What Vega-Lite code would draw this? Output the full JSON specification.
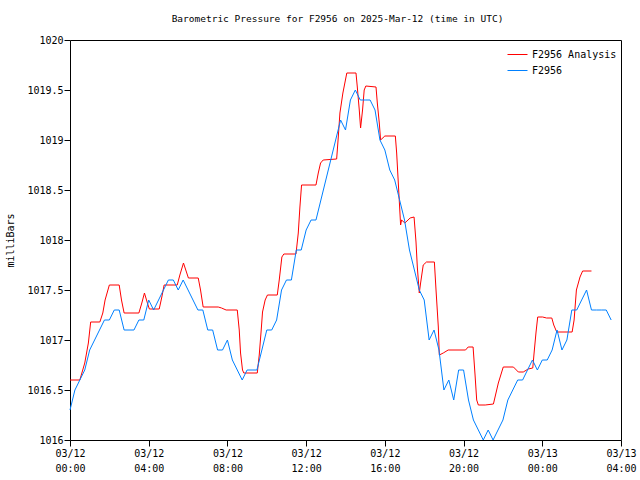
{
  "$schema": "https://vega.github.io/schema/vega-lite/v6.json",
  "autosize": "none",
  "width": 551,
  "height": 400,
  "padding": {"left": 70, "top": 40, "right": 19, "bottom": 40},
  "background": "white",
  "config": {
    "view": {"stroke": "black", "strokeWidth": 1},
    "axis": {"grid": false, "domain": false, "tickColor": "black", "labelColor": "black", "labelFont": "DejaVu Sans Mono", "labelFontSize": 10, "titleFont": "DejaVu Sans Mono", "titleFontSize": 10, "titleFontWeight": "normal", "titleColor": "black"}
  },
  "title": {"text": "Barometric Pressure for F2956 on 2025-Mar-12 (time in UTC)", "font": "DejaVu Sans Mono", "fontSize": 9.5, "fontWeight": "normal", "anchor": "middle", "offset": 12, "dx": -8, "color": "black"},
  "data": {"values": [
    {"t": "2025-03-12T00:00:00Z", "series": "F2956 Analysis", "p": 1016.6},
    {"t": "2025-03-12T00:30:00Z", "series": "F2956 Analysis", "p": 1016.6},
    {"t": "2025-03-12T00:45:00Z", "series": "F2956 Analysis", "p": 1016.77},
    {"t": "2025-03-12T00:56:00Z", "series": "F2956 Analysis", "p": 1016.97},
    {"t": "2025-03-12T01:03:00Z", "series": "F2956 Analysis", "p": 1017.18},
    {"t": "2025-03-12T01:31:00Z", "series": "F2956 Analysis", "p": 1017.18},
    {"t": "2025-03-12T01:40:00Z", "series": "F2956 Analysis", "p": 1017.27},
    {"t": "2025-03-12T01:47:00Z", "series": "F2956 Analysis", "p": 1017.4},
    {"t": "2025-03-12T02:00:00Z", "series": "F2956 Analysis", "p": 1017.55},
    {"t": "2025-03-12T02:30:00Z", "series": "F2956 Analysis", "p": 1017.55},
    {"t": "2025-03-12T02:37:00Z", "series": "F2956 Analysis", "p": 1017.4},
    {"t": "2025-03-12T02:45:00Z", "series": "F2956 Analysis", "p": 1017.27},
    {"t": "2025-03-12T03:30:00Z", "series": "F2956 Analysis", "p": 1017.27},
    {"t": "2025-03-12T03:39:00Z", "series": "F2956 Analysis", "p": 1017.37},
    {"t": "2025-03-12T03:47:00Z", "series": "F2956 Analysis", "p": 1017.47},
    {"t": "2025-03-12T03:56:00Z", "series": "F2956 Analysis", "p": 1017.37},
    {"t": "2025-03-12T04:02:00Z", "series": "F2956 Analysis", "p": 1017.31},
    {"t": "2025-03-12T04:32:00Z", "series": "F2956 Analysis", "p": 1017.31},
    {"t": "2025-03-12T04:40:00Z", "series": "F2956 Analysis", "p": 1017.43},
    {"t": "2025-03-12T04:47:00Z", "series": "F2956 Analysis", "p": 1017.55},
    {"t": "2025-03-12T05:27:00Z", "series": "F2956 Analysis", "p": 1017.55},
    {"t": "2025-03-12T05:35:00Z", "series": "F2956 Analysis", "p": 1017.65},
    {"t": "2025-03-12T05:46:00Z", "series": "F2956 Analysis", "p": 1017.77},
    {"t": "2025-03-12T05:53:00Z", "series": "F2956 Analysis", "p": 1017.7},
    {"t": "2025-03-12T06:01:00Z", "series": "F2956 Analysis", "p": 1017.62},
    {"t": "2025-03-12T06:31:00Z", "series": "F2956 Analysis", "p": 1017.62},
    {"t": "2025-03-12T06:38:00Z", "series": "F2956 Analysis", "p": 1017.5},
    {"t": "2025-03-12T06:46:00Z", "series": "F2956 Analysis", "p": 1017.33},
    {"t": "2025-03-12T07:32:00Z", "series": "F2956 Analysis", "p": 1017.33},
    {"t": "2025-03-12T07:42:00Z", "series": "F2956 Analysis", "p": 1017.32},
    {"t": "2025-03-12T07:56:00Z", "series": "F2956 Analysis", "p": 1017.3},
    {"t": "2025-03-12T08:30:00Z", "series": "F2956 Analysis", "p": 1017.3},
    {"t": "2025-03-12T08:33:00Z", "series": "F2956 Analysis", "p": 1017.2},
    {"t": "2025-03-12T08:36:00Z", "series": "F2956 Analysis", "p": 1017.1},
    {"t": "2025-03-12T08:40:00Z", "series": "F2956 Analysis", "p": 1016.87},
    {"t": "2025-03-12T08:46:00Z", "series": "F2956 Analysis", "p": 1016.7},
    {"t": "2025-03-12T08:50:00Z", "series": "F2956 Analysis", "p": 1016.67},
    {"t": "2025-03-12T09:31:00Z", "series": "F2956 Analysis", "p": 1016.67},
    {"t": "2025-03-12T09:37:00Z", "series": "F2956 Analysis", "p": 1016.85},
    {"t": "2025-03-12T09:43:00Z", "series": "F2956 Analysis", "p": 1017.1},
    {"t": "2025-03-12T09:47:00Z", "series": "F2956 Analysis", "p": 1017.28},
    {"t": "2025-03-12T09:55:00Z", "series": "F2956 Analysis", "p": 1017.4},
    {"t": "2025-03-12T10:02:00Z", "series": "F2956 Analysis", "p": 1017.45},
    {"t": "2025-03-12T10:32:00Z", "series": "F2956 Analysis", "p": 1017.45},
    {"t": "2025-03-12T10:38:00Z", "series": "F2956 Analysis", "p": 1017.6},
    {"t": "2025-03-12T10:46:00Z", "series": "F2956 Analysis", "p": 1017.83},
    {"t": "2025-03-12T10:52:00Z", "series": "F2956 Analysis", "p": 1017.86},
    {"t": "2025-03-12T11:29:00Z", "series": "F2956 Analysis", "p": 1017.86},
    {"t": "2025-03-12T11:36:00Z", "series": "F2956 Analysis", "p": 1018.07},
    {"t": "2025-03-12T11:41:00Z", "series": "F2956 Analysis", "p": 1018.33},
    {"t": "2025-03-12T11:46:00Z", "series": "F2956 Analysis", "p": 1018.55},
    {"t": "2025-03-12T12:30:00Z", "series": "F2956 Analysis", "p": 1018.55},
    {"t": "2025-03-12T12:37:00Z", "series": "F2956 Analysis", "p": 1018.67},
    {"t": "2025-03-12T12:44:00Z", "series": "F2956 Analysis", "p": 1018.77},
    {"t": "2025-03-12T12:52:00Z", "series": "F2956 Analysis", "p": 1018.8},
    {"t": "2025-03-12T13:33:00Z", "series": "F2956 Analysis", "p": 1018.81},
    {"t": "2025-03-12T13:38:00Z", "series": "F2956 Analysis", "p": 1019.03},
    {"t": "2025-03-12T13:43:00Z", "series": "F2956 Analysis", "p": 1019.27},
    {"t": "2025-03-12T13:52:00Z", "series": "F2956 Analysis", "p": 1019.47},
    {"t": "2025-03-12T14:04:00Z", "series": "F2956 Analysis", "p": 1019.67},
    {"t": "2025-03-12T14:32:00Z", "series": "F2956 Analysis", "p": 1019.67},
    {"t": "2025-03-12T14:36:00Z", "series": "F2956 Analysis", "p": 1019.53},
    {"t": "2025-03-12T14:42:00Z", "series": "F2956 Analysis", "p": 1019.3},
    {"t": "2025-03-12T14:46:00Z", "series": "F2956 Analysis", "p": 1019.12},
    {"t": "2025-03-12T14:52:00Z", "series": "F2956 Analysis", "p": 1019.3},
    {"t": "2025-03-12T14:57:00Z", "series": "F2956 Analysis", "p": 1019.5},
    {"t": "2025-03-12T15:02:00Z", "series": "F2956 Analysis", "p": 1019.54},
    {"t": "2025-03-12T15:33:00Z", "series": "F2956 Analysis", "p": 1019.53},
    {"t": "2025-03-12T15:37:00Z", "series": "F2956 Analysis", "p": 1019.37},
    {"t": "2025-03-12T15:43:00Z", "series": "F2956 Analysis", "p": 1019.17},
    {"t": "2025-03-12T15:47:00Z", "series": "F2956 Analysis", "p": 1019.0},
    {"t": "2025-03-12T16:00:00Z", "series": "F2956 Analysis", "p": 1019.04},
    {"t": "2025-03-12T16:32:00Z", "series": "F2956 Analysis", "p": 1019.04},
    {"t": "2025-03-12T16:36:00Z", "series": "F2956 Analysis", "p": 1018.87},
    {"t": "2025-03-12T16:41:00Z", "series": "F2956 Analysis", "p": 1018.57},
    {"t": "2025-03-12T16:48:00Z", "series": "F2956 Analysis", "p": 1018.15},
    {"t": "2025-03-12T16:51:00Z", "series": "F2956 Analysis", "p": 1018.2},
    {"t": "2025-03-12T17:01:00Z", "series": "F2956 Analysis", "p": 1018.17},
    {"t": "2025-03-12T17:17:00Z", "series": "F2956 Analysis", "p": 1018.22},
    {"t": "2025-03-12T17:29:00Z", "series": "F2956 Analysis", "p": 1018.23},
    {"t": "2025-03-12T17:35:00Z", "series": "F2956 Analysis", "p": 1017.98},
    {"t": "2025-03-12T17:39:00Z", "series": "F2956 Analysis", "p": 1017.73},
    {"t": "2025-03-12T17:45:00Z", "series": "F2956 Analysis", "p": 1017.47},
    {"t": "2025-03-12T17:49:00Z", "series": "F2956 Analysis", "p": 1017.57},
    {"t": "2025-03-12T17:57:00Z", "series": "F2956 Analysis", "p": 1017.75},
    {"t": "2025-03-12T18:07:00Z", "series": "F2956 Analysis", "p": 1017.78},
    {"t": "2025-03-12T18:31:00Z", "series": "F2956 Analysis", "p": 1017.78},
    {"t": "2025-03-12T18:36:00Z", "series": "F2956 Analysis", "p": 1017.5},
    {"t": "2025-03-12T18:43:00Z", "series": "F2956 Analysis", "p": 1017.13},
    {"t": "2025-03-12T18:46:00Z", "series": "F2956 Analysis", "p": 1016.85},
    {"t": "2025-03-12T18:58:00Z", "series": "F2956 Analysis", "p": 1016.87},
    {"t": "2025-03-12T19:13:00Z", "series": "F2956 Analysis", "p": 1016.9},
    {"t": "2025-03-12T20:06:00Z", "series": "F2956 Analysis", "p": 1016.9},
    {"t": "2025-03-12T20:14:00Z", "series": "F2956 Analysis", "p": 1016.93},
    {"t": "2025-03-12T20:29:00Z", "series": "F2956 Analysis", "p": 1016.93},
    {"t": "2025-03-12T20:35:00Z", "series": "F2956 Analysis", "p": 1016.65},
    {"t": "2025-03-12T20:40:00Z", "series": "F2956 Analysis", "p": 1016.4},
    {"t": "2025-03-12T20:45:00Z", "series": "F2956 Analysis", "p": 1016.35},
    {"t": "2025-03-12T21:06:00Z", "series": "F2956 Analysis", "p": 1016.35},
    {"t": "2025-03-12T21:31:00Z", "series": "F2956 Analysis", "p": 1016.36},
    {"t": "2025-03-12T21:36:00Z", "series": "F2956 Analysis", "p": 1016.43},
    {"t": "2025-03-12T21:46:00Z", "series": "F2956 Analysis", "p": 1016.57},
    {"t": "2025-03-12T22:01:00Z", "series": "F2956 Analysis", "p": 1016.73},
    {"t": "2025-03-12T22:32:00Z", "series": "F2956 Analysis", "p": 1016.73},
    {"t": "2025-03-12T22:47:00Z", "series": "F2956 Analysis", "p": 1016.68},
    {"t": "2025-03-12T23:02:00Z", "series": "F2956 Analysis", "p": 1016.68},
    {"t": "2025-03-12T23:17:00Z", "series": "F2956 Analysis", "p": 1016.71},
    {"t": "2025-03-12T23:31:00Z", "series": "F2956 Analysis", "p": 1016.72},
    {"t": "2025-03-12T23:35:00Z", "series": "F2956 Analysis", "p": 1016.87},
    {"t": "2025-03-12T23:41:00Z", "series": "F2956 Analysis", "p": 1017.08},
    {"t": "2025-03-12T23:46:00Z", "series": "F2956 Analysis", "p": 1017.23},
    {"t": "2025-03-13T00:01:00Z", "series": "F2956 Analysis", "p": 1017.23},
    {"t": "2025-03-13T00:13:00Z", "series": "F2956 Analysis", "p": 1017.22},
    {"t": "2025-03-13T00:29:00Z", "series": "F2956 Analysis", "p": 1017.22},
    {"t": "2025-03-13T00:35:00Z", "series": "F2956 Analysis", "p": 1017.15},
    {"t": "2025-03-13T00:44:00Z", "series": "F2956 Analysis", "p": 1017.08},
    {"t": "2025-03-13T01:31:00Z", "series": "F2956 Analysis", "p": 1017.08},
    {"t": "2025-03-13T01:37:00Z", "series": "F2956 Analysis", "p": 1017.2},
    {"t": "2025-03-13T01:44:00Z", "series": "F2956 Analysis", "p": 1017.5},
    {"t": "2025-03-13T01:55:00Z", "series": "F2956 Analysis", "p": 1017.63},
    {"t": "2025-03-13T02:03:00Z", "series": "F2956 Analysis", "p": 1017.69},
    {"t": "2025-03-13T02:30:00Z", "series": "F2956 Analysis", "p": 1017.69},
    {"t": "2025-03-12T00:00:00Z", "series": "F2956", "p": 1016.3},
    {"t": "2025-03-12T00:15:00Z", "series": "F2956", "p": 1016.5},
    {"t": "2025-03-12T00:30:00Z", "series": "F2956", "p": 1016.6},
    {"t": "2025-03-12T00:45:00Z", "series": "F2956", "p": 1016.7},
    {"t": "2025-03-12T01:00:00Z", "series": "F2956", "p": 1016.9},
    {"t": "2025-03-12T01:15:00Z", "series": "F2956", "p": 1017.0},
    {"t": "2025-03-12T01:30:00Z", "series": "F2956", "p": 1017.1},
    {"t": "2025-03-12T01:45:00Z", "series": "F2956", "p": 1017.2},
    {"t": "2025-03-12T02:00:00Z", "series": "F2956", "p": 1017.2},
    {"t": "2025-03-12T02:15:00Z", "series": "F2956", "p": 1017.3},
    {"t": "2025-03-12T02:30:00Z", "series": "F2956", "p": 1017.3},
    {"t": "2025-03-12T02:45:00Z", "series": "F2956", "p": 1017.1},
    {"t": "2025-03-12T03:00:00Z", "series": "F2956", "p": 1017.1},
    {"t": "2025-03-12T03:15:00Z", "series": "F2956", "p": 1017.1},
    {"t": "2025-03-12T03:30:00Z", "series": "F2956", "p": 1017.2},
    {"t": "2025-03-12T03:45:00Z", "series": "F2956", "p": 1017.2},
    {"t": "2025-03-12T04:00:00Z", "series": "F2956", "p": 1017.4},
    {"t": "2025-03-12T04:15:00Z", "series": "F2956", "p": 1017.3},
    {"t": "2025-03-12T04:30:00Z", "series": "F2956", "p": 1017.4},
    {"t": "2025-03-12T04:45:00Z", "series": "F2956", "p": 1017.5},
    {"t": "2025-03-12T05:00:00Z", "series": "F2956", "p": 1017.6},
    {"t": "2025-03-12T05:15:00Z", "series": "F2956", "p": 1017.6},
    {"t": "2025-03-12T05:30:00Z", "series": "F2956", "p": 1017.5},
    {"t": "2025-03-12T05:45:00Z", "series": "F2956", "p": 1017.6},
    {"t": "2025-03-12T06:00:00Z", "series": "F2956", "p": 1017.5},
    {"t": "2025-03-12T06:15:00Z", "series": "F2956", "p": 1017.4},
    {"t": "2025-03-12T06:30:00Z", "series": "F2956", "p": 1017.3},
    {"t": "2025-03-12T06:45:00Z", "series": "F2956", "p": 1017.3},
    {"t": "2025-03-12T07:00:00Z", "series": "F2956", "p": 1017.1},
    {"t": "2025-03-12T07:15:00Z", "series": "F2956", "p": 1017.1},
    {"t": "2025-03-12T07:30:00Z", "series": "F2956", "p": 1016.9},
    {"t": "2025-03-12T07:45:00Z", "series": "F2956", "p": 1016.9},
    {"t": "2025-03-12T08:00:00Z", "series": "F2956", "p": 1017.0},
    {"t": "2025-03-12T08:15:00Z", "series": "F2956", "p": 1016.8},
    {"t": "2025-03-12T08:30:00Z", "series": "F2956", "p": 1016.7},
    {"t": "2025-03-12T08:45:00Z", "series": "F2956", "p": 1016.6},
    {"t": "2025-03-12T09:00:00Z", "series": "F2956", "p": 1016.7},
    {"t": "2025-03-12T09:15:00Z", "series": "F2956", "p": 1016.7},
    {"t": "2025-03-12T09:30:00Z", "series": "F2956", "p": 1016.7},
    {"t": "2025-03-12T09:45:00Z", "series": "F2956", "p": 1016.9},
    {"t": "2025-03-12T10:00:00Z", "series": "F2956", "p": 1017.1},
    {"t": "2025-03-12T10:15:00Z", "series": "F2956", "p": 1017.1},
    {"t": "2025-03-12T10:30:00Z", "series": "F2956", "p": 1017.2},
    {"t": "2025-03-12T10:45:00Z", "series": "F2956", "p": 1017.5},
    {"t": "2025-03-12T11:00:00Z", "series": "F2956", "p": 1017.6},
    {"t": "2025-03-12T11:15:00Z", "series": "F2956", "p": 1017.6},
    {"t": "2025-03-12T11:30:00Z", "series": "F2956", "p": 1017.9},
    {"t": "2025-03-12T11:45:00Z", "series": "F2956", "p": 1017.9},
    {"t": "2025-03-12T12:00:00Z", "series": "F2956", "p": 1018.1},
    {"t": "2025-03-12T12:15:00Z", "series": "F2956", "p": 1018.2},
    {"t": "2025-03-12T12:30:00Z", "series": "F2956", "p": 1018.2},
    {"t": "2025-03-12T12:45:00Z", "series": "F2956", "p": 1018.4},
    {"t": "2025-03-12T13:00:00Z", "series": "F2956", "p": 1018.6},
    {"t": "2025-03-12T13:15:00Z", "series": "F2956", "p": 1018.8},
    {"t": "2025-03-12T13:30:00Z", "series": "F2956", "p": 1019.0},
    {"t": "2025-03-12T13:45:00Z", "series": "F2956", "p": 1019.2},
    {"t": "2025-03-12T14:00:00Z", "series": "F2956", "p": 1019.1},
    {"t": "2025-03-12T14:15:00Z", "series": "F2956", "p": 1019.4},
    {"t": "2025-03-12T14:30:00Z", "series": "F2956", "p": 1019.5},
    {"t": "2025-03-12T14:45:00Z", "series": "F2956", "p": 1019.4},
    {"t": "2025-03-12T15:00:00Z", "series": "F2956", "p": 1019.4},
    {"t": "2025-03-12T15:15:00Z", "series": "F2956", "p": 1019.4},
    {"t": "2025-03-12T15:30:00Z", "series": "F2956", "p": 1019.3},
    {"t": "2025-03-12T15:45:00Z", "series": "F2956", "p": 1019.0},
    {"t": "2025-03-12T16:00:00Z", "series": "F2956", "p": 1018.9},
    {"t": "2025-03-12T16:15:00Z", "series": "F2956", "p": 1018.7},
    {"t": "2025-03-12T16:30:00Z", "series": "F2956", "p": 1018.6},
    {"t": "2025-03-12T16:45:00Z", "series": "F2956", "p": 1018.4},
    {"t": "2025-03-12T17:00:00Z", "series": "F2956", "p": 1018.2},
    {"t": "2025-03-12T17:15:00Z", "series": "F2956", "p": 1017.9},
    {"t": "2025-03-12T17:30:00Z", "series": "F2956", "p": 1017.7},
    {"t": "2025-03-12T17:45:00Z", "series": "F2956", "p": 1017.5},
    {"t": "2025-03-12T18:00:00Z", "series": "F2956", "p": 1017.4},
    {"t": "2025-03-12T18:15:00Z", "series": "F2956", "p": 1017.0},
    {"t": "2025-03-12T18:30:00Z", "series": "F2956", "p": 1017.1},
    {"t": "2025-03-12T18:45:00Z", "series": "F2956", "p": 1016.9},
    {"t": "2025-03-12T19:00:00Z", "series": "F2956", "p": 1016.5},
    {"t": "2025-03-12T19:15:00Z", "series": "F2956", "p": 1016.6},
    {"t": "2025-03-12T19:30:00Z", "series": "F2956", "p": 1016.4},
    {"t": "2025-03-12T19:45:00Z", "series": "F2956", "p": 1016.7},
    {"t": "2025-03-12T20:00:00Z", "series": "F2956", "p": 1016.7},
    {"t": "2025-03-12T20:15:00Z", "series": "F2956", "p": 1016.4},
    {"t": "2025-03-12T20:30:00Z", "series": "F2956", "p": 1016.2},
    {"t": "2025-03-12T20:45:00Z", "series": "F2956", "p": 1016.1},
    {"t": "2025-03-12T21:00:00Z", "series": "F2956", "p": 1016.0},
    {"t": "2025-03-12T21:15:00Z", "series": "F2956", "p": 1016.1},
    {"t": "2025-03-12T21:30:00Z", "series": "F2956", "p": 1016.0},
    {"t": "2025-03-12T21:45:00Z", "series": "F2956", "p": 1016.1},
    {"t": "2025-03-12T22:00:00Z", "series": "F2956", "p": 1016.2},
    {"t": "2025-03-12T22:15:00Z", "series": "F2956", "p": 1016.4},
    {"t": "2025-03-12T22:30:00Z", "series": "F2956", "p": 1016.5},
    {"t": "2025-03-12T22:45:00Z", "series": "F2956", "p": 1016.6},
    {"t": "2025-03-12T23:00:00Z", "series": "F2956", "p": 1016.6},
    {"t": "2025-03-12T23:15:00Z", "series": "F2956", "p": 1016.7},
    {"t": "2025-03-12T23:30:00Z", "series": "F2956", "p": 1016.8},
    {"t": "2025-03-12T23:45:00Z", "series": "F2956", "p": 1016.7},
    {"t": "2025-03-13T00:00:00Z", "series": "F2956", "p": 1016.8},
    {"t": "2025-03-13T00:15:00Z", "series": "F2956", "p": 1016.8},
    {"t": "2025-03-13T00:30:00Z", "series": "F2956", "p": 1016.9},
    {"t": "2025-03-13T00:45:00Z", "series": "F2956", "p": 1017.1},
    {"t": "2025-03-13T01:00:00Z", "series": "F2956", "p": 1016.9},
    {"t": "2025-03-13T01:15:00Z", "series": "F2956", "p": 1017.0},
    {"t": "2025-03-13T01:30:00Z", "series": "F2956", "p": 1017.3},
    {"t": "2025-03-13T01:45:00Z", "series": "F2956", "p": 1017.3},
    {"t": "2025-03-13T02:00:00Z", "series": "F2956", "p": 1017.4},
    {"t": "2025-03-13T02:15:00Z", "series": "F2956", "p": 1017.5},
    {"t": "2025-03-13T02:30:00Z", "series": "F2956", "p": 1017.3},
    {"t": "2025-03-13T02:45:00Z", "series": "F2956", "p": 1017.3},
    {"t": "2025-03-13T03:00:00Z", "series": "F2956", "p": 1017.3},
    {"t": "2025-03-13T03:15:00Z", "series": "F2956", "p": 1017.3},
    {"t": "2025-03-13T03:30:00Z", "series": "F2956", "p": 1017.2}
  ]},
  "mark": {"type": "line", "strokeWidth": 1},
  "encoding": {
    "x": {"field": "t", "type": "temporal",
          "scale": {"type": "utc", "domain": ["2025-03-12T00:00:00Z", "2025-03-13T04:00:00Z"], "nice": false},
          "axis": {"title": null, "tickSize": 6, "labelPadding": 2, "labelLineHeight": 15, "labelBaseline": "top", "labelFlush": false, "labelOverlap": false,
                   "values": [
                     {"year": 2025, "month": 3, "date": 12, "hours": 0, "utc": true},
                     {"year": 2025, "month": 3, "date": 12, "hours": 4, "utc": true},
                     {"year": 2025, "month": 3, "date": 12, "hours": 8, "utc": true},
                     {"year": 2025, "month": 3, "date": 12, "hours": 12, "utc": true},
                     {"year": 2025, "month": 3, "date": 12, "hours": 16, "utc": true},
                     {"year": 2025, "month": 3, "date": 12, "hours": 20, "utc": true},
                     {"year": 2025, "month": 3, "date": 13, "hours": 0, "utc": true},
                     {"year": 2025, "month": 3, "date": 13, "hours": 4, "utc": true}
                   ],
                   "labelExpr": "[utcFormat(datum.value, '%m/%d'), utcFormat(datum.value, '%H:%M')]"}},
    "y": {"field": "p", "type": "quantitative",
          "scale": {"domain": [1016, 1020], "zero": false, "nice": false},
          "axis": {"title": "milliBars", "values": [1016, 1016.5, 1017, 1017.5, 1018, 1018.5, 1019, 1019.5, 1020], "format": ".1~f", "tickSize": 6, "labelPadding": 1, "titlePadding": 11, "labelFlush": false}},
    "color": {"field": "series", "type": "nominal",
              "scale": {"domain": ["F2956 Analysis", "F2956"], "range": ["#ff0000", "#0080ff"]},
              "legend": {"title": null, "orient": "top-right", "offset": 4, "rowPadding": 0, "symbolType": "stroke", "symbolSize": 400, "symbolStrokeWidth": 1,
                         "labelFont": "DejaVu Sans Mono", "labelFontSize": 10, "labelColor": "black"}}
  }
}
